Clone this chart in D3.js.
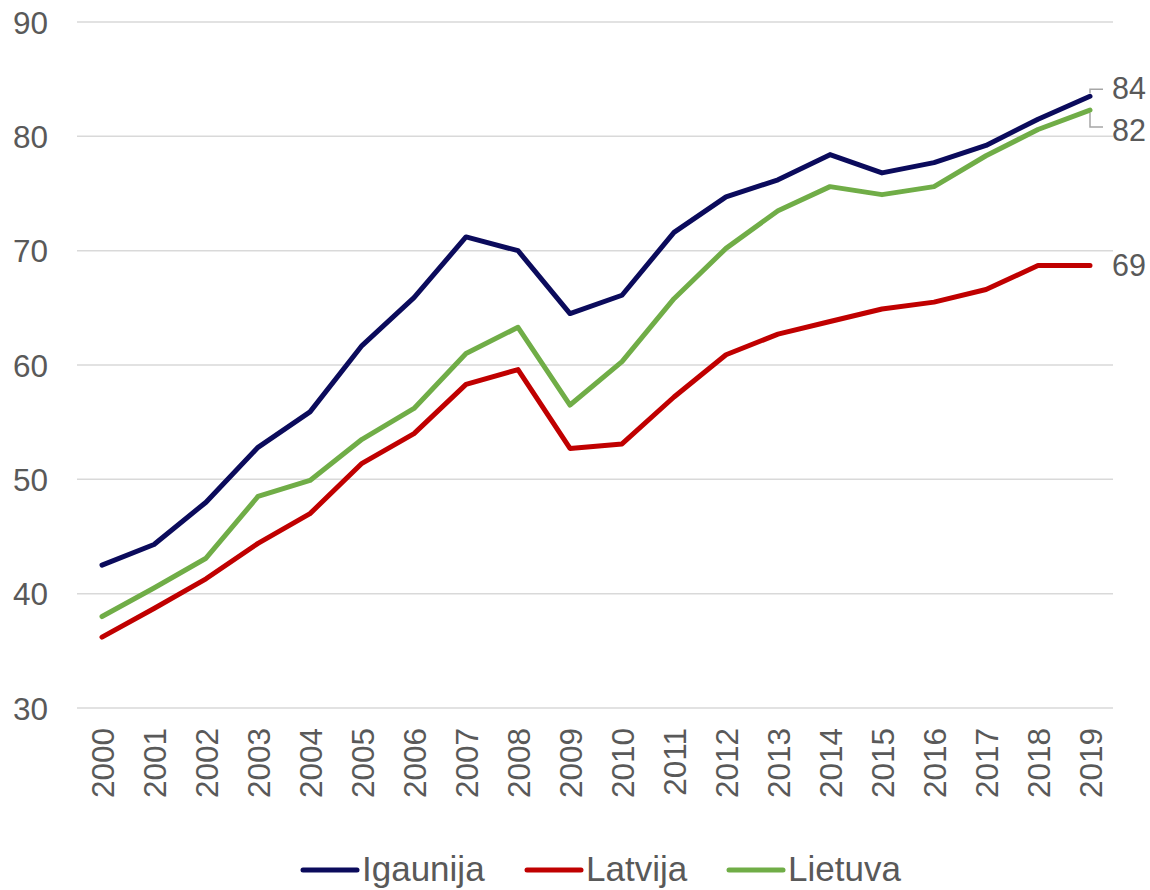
<!DOCTYPE html>
<html>
<head>
<meta charset="utf-8">
<script src="https://cdn.jsdelivr.net/npm/d3@7"></script>
<style>
  html, body { margin: 0; padding: 0; background: #fff; }
  svg { display: block; font-family: "Liberation Sans", Arial, sans-serif; }
</style>
</head>
<body>
<svg id="chart" width="1150" height="890"></svg>
<script>
const years = [2000,2001,2002,2003,2004,2005,2006,2007,2008,2009,2010,2011,2012,2013,2014,2015,2016,2017,2018,2019];
const igaunija = [42.5,44.3,48.0,52.8,55.9,61.7,65.9,71.2,70.0,64.5,66.1,71.6,74.7,76.2,78.4,76.8,77.7,79.2,81.5,83.5];
const latvija  = [36.2,38.7,41.3,44.4,47.0,51.4,54.0,58.3,59.6,52.7,53.1,57.2,60.9,62.7,63.8,64.9,65.5,66.6,68.7,68.7];
const lietuva  = [38.0,40.5,43.1,48.5,49.9,53.5,56.2,61.0,63.3,56.5,60.3,65.8,70.2,73.5,75.6,74.9,75.6,78.3,80.6,82.3];
const yTicks = [30,40,50,60,70,80,90];
const seriesNames = ["Igaunija","Latvija","Lietuva"];
const endLabels = ["84","69","82"];

const colors = ["#0b0b5c","#c00000","#70ad47"];
const series = [igaunija, latvija, lietuva].map((v,i)=>({name:seriesNames[i], values:v, color:colors[i], label:endLabels[i]}));

const svg = d3.select("#chart");
const textColor = "#595959";
const tickFs = 31.5;
const labelFs = 30.5;
const legendFs = 35;

const x = d3.scalePoint().domain(years).range([102,1090]);
const y = d3.scaleLinear().domain([30,90]).range([708,22]);

// gridlines
svg.append("g").selectAll("line").data(yTicks).join("line")
  .attr("x1",77).attr("x2",1113)
  .attr("y1",d=>y(d)).attr("y2",d=>y(d))
  .attr("stroke","#d9d9d9").attr("stroke-width",1.5);

// y axis labels
const yAxis = d3.axisLeft(y).tickValues(yTicks).tickSize(0).tickPadding(0);
const yg = svg.append("g").attr("transform","translate(48,0)").call(yAxis);
yg.select(".domain").remove();
yg.selectAll("text").attr("font-size",tickFs).attr("fill",textColor)
  .attr("font-family","Liberation Sans, Arial, sans-serif").attr("dy","0.35em");

// x axis labels
const xAxis = d3.axisBottom(x).tickSize(0).tickPadding(0);
const xg = svg.append("g").attr("transform","translate(0,728)").call(xAxis);
xg.select(".domain").remove();
xg.selectAll("text")
  .attr("font-size",tickFs).attr("fill",textColor)
  .attr("font-family","Liberation Sans, Arial, sans-serif")
  .attr("text-anchor","end")
  .attr("transform","rotate(-90)")
  .attr("x",0).attr("y",0).attr("dx",0).attr("dy","0.35em");

// lines
const line = d3.line().x((d,i)=>x(years[i])).y(d=>y(d));
svg.append("g").selectAll("path").data(series).join("path")
  .attr("d",d=>line(d.values))
  .attr("fill","none").attr("stroke",d=>d.color)
  .attr("stroke-width",5).attr("stroke-linecap","round").attr("stroke-linejoin","round");

// end labels with leaders
const last = years[years.length-1];
const lx = x(last);
const labelOffsets = {"Igaunija": -7, "Latvija": 0, "Lietuva": 17};
series.forEach(s=>{
  const vy = y(s.values[s.values.length-1]);
  const off = labelOffsets[s.name];
  const ly = vy + off;
  if (off !== 0) {
    svg.append("path")
      .attr("d", `M${lx},${vy + (off<0?-1:1)*3} L${lx},${ly} L${lx+13},${ly}`)
      .attr("fill","none").attr("stroke","#a6a6a6").attr("stroke-width",1.5);
  }
  svg.append("text").attr("x",lx+22).attr("y", off<0 ? ly-1 : (off>0 ? ly+3 : ly))
    .attr("dy","0.35em").attr("font-size",labelFs).attr("fill",textColor)
    .text(s.label);
});

// legend
const legendItems = [
  {lx:303, tx:362},
  {lx:527, tx:586},
  {lx:729, tx:788}
];
const lg = svg.append("g");
series.forEach((s,i)=>{
  const it = legendItems[i];
  lg.append("line").attr("x1",it.lx).attr("x2",it.lx+54).attr("y1",870).attr("y2",870)
    .attr("stroke",s.color).attr("stroke-width",5).attr("stroke-linecap","round");
  lg.append("text").attr("x",it.tx).attr("y",881)
    .attr("font-size",legendFs).attr("fill",textColor).text(s.name);
});
</script>
</body>
</html>
